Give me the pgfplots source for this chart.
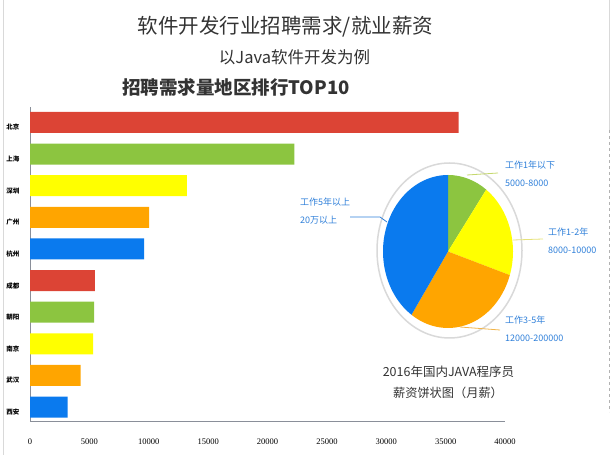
\documentclass[border=0pt]{standalone}
\usepackage{fontspec}
\usepackage{pgfplots}
\pgfplotsset{compat=1.18}
\setmainfont{Liberation Serif}
\newfontfamily\cjk{Noto Sans CJK SC}
\definecolor{cred}{HTML}{DC4435}
\definecolor{cgreen}{HTML}{8CC540}
\definecolor{cyellow}{HTML}{FFFF00}
\definecolor{corange}{HTML}{FFA500}
\definecolor{cblue}{HTML}{0A7AEE}
\definecolor{lbl}{HTML}{2E7FD9}
\definecolor{axisgray}{HTML}{8A8F99}
\definecolor{titlegray}{HTML}{333333}
\definecolor{ringgray}{HTML}{D9D9D9}
\definecolor{lgreen}{HTML}{C5D86D}
\definecolor{lyellow}{HTML}{E6E27A}
\definecolor{lorange}{HTML}{F2B54A}
% pie shares (percent), clockwise from 12 o'clock
\def\pA{10}\def\pB{20}\def\pC{29.5}\def\pD{40.5}
\pgfmathsetmacro\aA{90}
\pgfmathsetmacro\aB{\aA-3.6*\pA}
\pgfmathsetmacro\aC{\aB-3.6*\pB}
\pgfmathsetmacro\aD{\aC-3.6*\pC}
\pgfmathsetmacro\aE{\aD-3.6*\pD}
\begin{document}
\begin{tikzpicture}[x=1pt,y=1pt]
\useasboundingbox (0,0) rectangle (616,460);
% frame lines
\draw[ringgray, line width=0.8pt] (3,5) -- (3,460);
\draw[ringgray, line width=0.8pt] (609,460) -- (609,330);
\draw[gray!60, line width=0.8pt, dashed] (609,330) -- (609,48);
% titles
\node[font=\cjk\fontsize{20.5}{20.5}\selectfont, text=titlegray] at (285.5,433) {软件开发行业招聘需求/就业薪资};
\node[font=\cjk\fontsize{16.5}{16.5}\selectfont, text=titlegray] at (294.5,403) {以Java软件开发为例};
\node[font=\cjk\bfseries\fontsize{18.5}{18.5}\selectfont, text=titlegray, anchor=west, inner sep=0pt] at (122,373) {招聘需求量地区排行TOP10};
\begin{axis}[
  at={(30pt,38.3pt)}, anchor=south west,
  scale only axis, width=475pt, height=314.7pt,
  xmin=0, xmax=40000, ymin=-0.49, ymax=9.465, y dir=reverse,
  xbar, bar width=21pt, bar shift=0pt,
  axis x line*=bottom, axis y line*=left,
  axis line style={-, draw=axisgray, line width=0.8pt},
  major tick length=0pt,
  xtick={0,5000,...,40000}, scaled x ticks=false,
  /pgf/number format/assume math mode=true,
  xticklabel style={font=\fontsize{8.5}{8.5}\selectfont, yshift=-14pt,
     /pgf/number format/1000 sep={}, /pgf/number format/fixed},
  ytick={0,...,9},
  yticklabels={北京,上海,深圳,广州,杭州,成都,朝阳,南京,武汉,西安},
  yticklabel style={font=\cjk\bfseries\fontsize{6.5}{6.5}\selectfont, xshift=-7pt, yshift=-5pt},
]
\addplot[fill=cred, draw=none] coordinates {(36100,0) (5460,5)};
\addplot[fill=cgreen, draw=none] coordinates {(22270,1) (5400,6)};
\addplot[fill=cyellow, draw=none] coordinates {(13220,2) (5320,7)};
\addplot[fill=corange, draw=none] coordinates {(10030,3) (4260,8)};
\addplot[fill=cblue, draw=none] coordinates {(9600,4) (3170,9)};
\end{axis}
% pie ring
\fill[white] (449.5,209.5) ellipse [x radius=72.5, y radius=87.5];
\draw[ringgray, line width=1.5pt] (449.5,209.5) ellipse [x radius=72.5, y radius=87.5];
\begin{axis}[
  at={(448pt,208.5pt)}, anchor=center,
  scale only axis, width=130pt, height=153pt,
  xmin=-1, xmax=1, ymin=-1, ymax=1, hide axis,
]
\fill[cgreen] (axis cs:0,0) -- (axis cs:{cos(\aA)},{sin(\aA)}) arc[start angle=\aA, end angle=\aB, x radius=65pt, y radius=76.5pt] -- cycle;
\fill[cyellow] (axis cs:0,0) -- (axis cs:{cos(\aB)},{sin(\aB)}) arc[start angle=\aB, end angle=\aC, x radius=65pt, y radius=76.5pt] -- cycle;
\fill[corange] (axis cs:0,0) -- (axis cs:{cos(\aC)},{sin(\aC)}) arc[start angle=\aC, end angle=\aD, x radius=65pt, y radius=76.5pt] -- cycle;
\fill[cblue] (axis cs:0,0) -- (axis cs:{cos(\aD)},{sin(\aD)}) arc[start angle=\aD, end angle=\aE, x radius=65pt, y radius=76.5pt] -- cycle;
\end{axis}
% leader lines
\draw[lgreen, line width=0.8pt] (467,285) -- (498,287);
\draw[lyellow, line width=0.8pt] (513,220) -- (543,221);
\draw[lorange, line width=0.8pt] (460,133) -- (500,130);
\draw[lbl, line width=0.8pt] (350,243) -- (380,243) -- (387,238);
% pie labels
\begin{scope}[every node/.style={font=\cjk\fontsize{9}{9}\selectfont, text=lbl, anchor=west, inner sep=0pt}]
\node at (505,295) {工作1年以下};
\node at (505,277) {5000-8000};
\node at (548,228) {工作1-2年};
\node at (548,210) {8000-10000};
\node at (505,140) {工作3-5年};
\node at (505,122) {12000-200000};
\node at (300,258) {工作5年以上};
\node at (300,240) {20万以上};
\end{scope}
\node[font=\cjk\fontsize{12.5}{12.5}\selectfont, text=titlegray] at (448.5,88) {2016年国内JAVA程序员};
\node[font=\cjk\fontsize{12.2}{12.2}\selectfont, text=titlegray] at (448,67) {薪资饼状图（月薪）};
\end{tikzpicture}
\end{document}
